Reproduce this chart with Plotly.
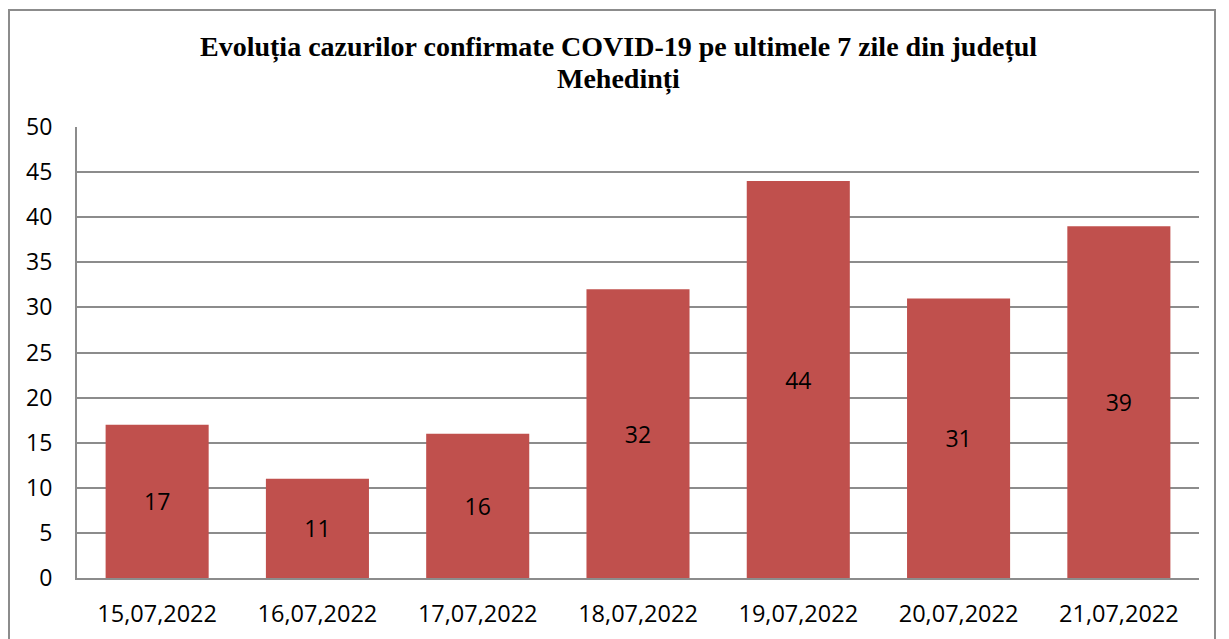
import plotly.graph_objects as go

categories = ["15,07,2022", "16,07,2022", "17,07,2022", "18,07,2022",
              "19,07,2022", "20,07,2022", "21,07,2022"]
values = [17, 11, 16, 32, 44, 31, 39]
y_ticks = [0, 5, 10, 15, 20, 25, 30, 35, 40, 45, 50]
title_line1 = "Evoluția cazurilor confirmate COVID-19 pe ultimele 7 zile din județul"
title_line2 = "Mehedinți"

OFF = 8  # default page body margin of the browser
W, H = 1229 - OFF, 639 - OFF
L, R, T, B = 77 - OFF, 30, 127 - OFF, 61
PW, PH = W - L - R, H - T - B


def px(xpage):
    return (xpage - OFF - L) / PW


def py(ypage):
    return (H - B - (ypage - OFF)) / PH


SANS = "Open Sans, Carlito, Lato, sans-serif"
SERIF = "Liberation Serif, Times New Roman, serif"

fig = go.Figure()
fig.add_trace(go.Bar(
    x=categories, y=values,
    marker=dict(color="#C0504D", line=dict(width=0)),
    text=[str(v) for v in values],
    textposition="inside", insidetextanchor="middle",
    textfont=dict(family=SANS, size=23, color="black"),
    textangle=0,
    hoverinfo="skip",
))

fig.update_layout(
    width=W, height=H,
    margin=dict(l=L, r=R, t=T, b=B),
    paper_bgcolor="white", plot_bgcolor="white",
    bargap=0.357,
    showlegend=False,
    font=dict(family=SANS, size=23, color="black"),
    uniformtext=dict(mode="show", minsize=10),
)

fig.update_yaxes(
    range=[0, 50], tickvals=y_ticks, ticktext=[str(t) for t in y_ticks],
    showgrid=True, gridcolor="#8c8c8c", gridwidth=2,
    showline=True, linecolor="#8c8c8c", linewidth=2,
    zeroline=False, ticks="", ticklabelstandoff=18, automargin=False,
    tickfont=dict(family=SANS, size=23, color="black"),
)
fig.update_xaxes(
    showline=True, linecolor="#8c8c8c", linewidth=2,
    showgrid=False, ticks="", ticklabelstandoff=14, automargin=False,
    tickfont=dict(family=SANS, size=23.5, color="black"),
)

# title as two centred lines
for txt, ypix in ((title_line1, 47), (title_line2, 79)):
    fig.add_annotation(
        text=f"<b>{txt}</b>", showarrow=False,
        xref="paper", yref="paper",
        x=px(618), y=py(ypix),
        xanchor="center", yanchor="middle",
        font=dict(family=SERIF, size=28, color="black"),
    )

# outer chart border
fig.add_shape(type="rect", xref="paper", yref="paper",
              x0=px(9), x1=px(1215),
              y0=-0.3, y1=py(10),
              line=dict(color="#8c8c8c", width=2), fillcolor="rgba(0,0,0,0)", layer="below")

fig.write_html("out.html")
